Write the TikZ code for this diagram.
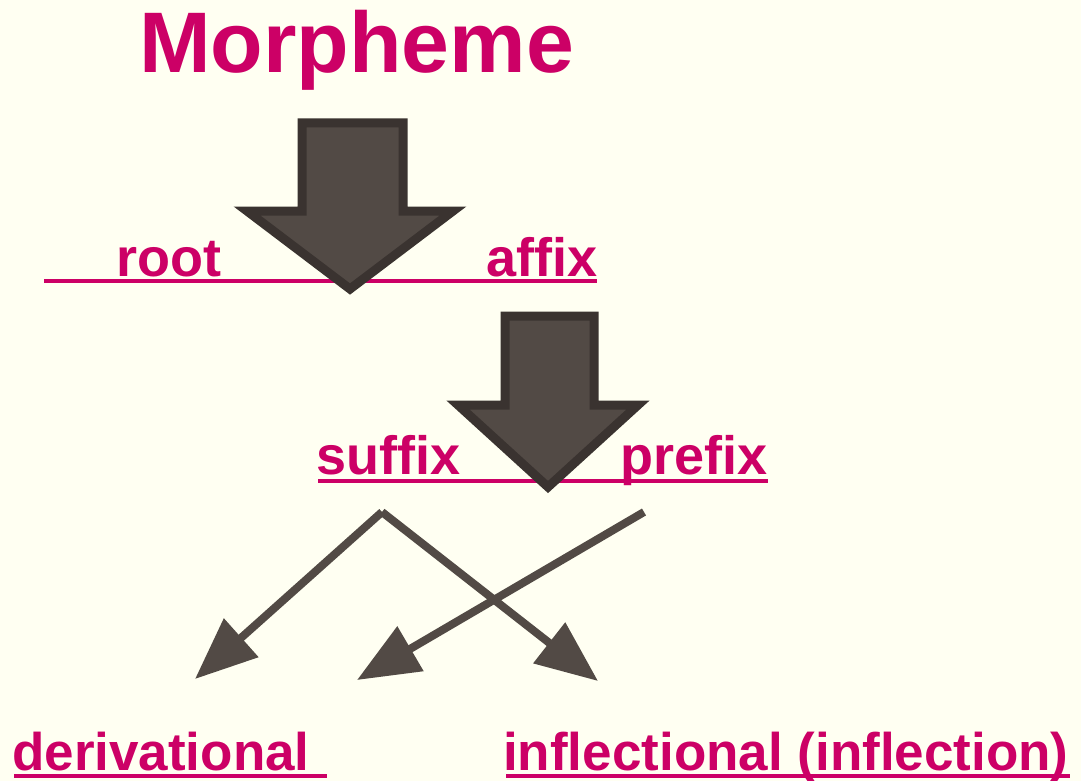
\documentclass[tikz,border=0pt]{standalone}
\usepackage{fontspec}
\setmainfont{Liberation Sans}
\usepackage{xcolor}
\usetikzlibrary{arrows.meta,positioning}
\definecolor{morphred}{RGB}{204,0,102}
\definecolor{paper}{RGB}{255,255,242}
\definecolor{arrowfill}{RGB}{82,74,69}
\definecolor{arrowedge}{RGB}{58,51,48}

\begin{document}
\begin{tikzpicture}[x=1pt,y=-1pt]
    \tikzstyle{word}=[anchor=base west,inner sep=0pt,text=morphred,font=\bfseries\fontsize{54}{62}\selectfont]
    \tikzstyle{kind}=[word,font=\bfseries\fontsize{53}{61}\selectfont]
    \tikzstyle{title}=[word,font=\bfseries\fontsize{86}{98}\selectfont]
    \tikzstyle{rule}=[draw=morphred,line width=4pt]
    \tikzstyle{block}=[fill=arrowfill,draw=arrowedge,line width=9pt,line join=miter]
    \tikzstyle{edge}=[draw=arrowfill,line width=8pt,-{Triangle[length=62pt,width=50pt]}]

    \fill[paper] (0,0) rectangle (1081,781);
    \useasboundingbox (0,0) rectangle (1081,781);

    \node[title] (morpheme) at (139,73) {Morpheme};

    % first split
    \draw[rule] (44,281) -- (597,281);
    \node[word] (root) at (116,276) {root};
    \node[word] (affix) at (486,276) {affix};
    \draw[block] (302,123) -- (403,123) -- (403,211) -- (453,211) -- (350,289)
        -- (247,211) -- (302,211) -- cycle;

    % second split
    \draw[rule] (318,481) -- (768,481);
    \node[word] (suffix) at (316,474) {suffix};
    \node[word] (prefix) at (620,474) {prefix};
    \draw[block] (505,316) -- (594,316) -- (594,405) -- (638,405) -- (548,487)
        -- (458,405) -- (505,405) -- cycle;

    % kinds
    \node[kind] (deriv) at (12,770) {derivational};
    \node[kind] (infl) at (503,770) {inflectional (inflection)};
    \draw[rule] (14,776) -- (327,776);
    \draw[rule] (506,776) -- (1070,776);

    \coordinate (sfx) at (382,512);
    \coordinate (pfx) at (644,512);
    \coordinate (dtip) at (195,679);
    \coordinate (itip) at (598,681);
    \coordinate (ptip) at (357,680);

    \draw[edge] (sfx) -- (dtip);
    \draw[edge] (sfx) -- (itip);
    \draw[edge] (pfx) -- (ptip);
\end{tikzpicture}
\end{document}
